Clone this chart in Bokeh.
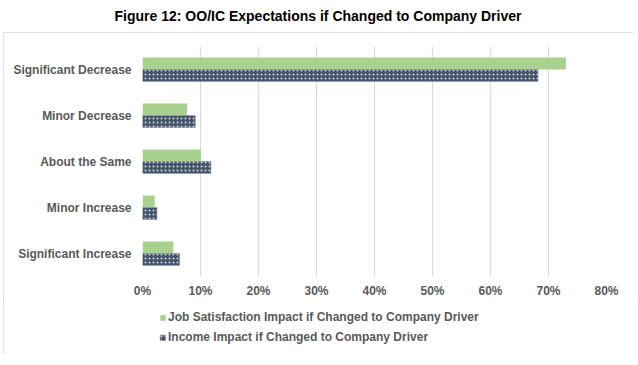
from bokeh.plotting import figure
from bokeh.layouts import column
from bokeh.models import (FactorRange, Range1d, NumeralTickFormatter, FixedTicker,
                          Legend, LegendItem, ColumnDataSource, Div)
from bokeh.transform import dodge
from bokeh.embed import file_html
from bokeh.resources import INLINE

# ---- data ----
categories = ["Significant Decrease", "Minor Decrease", "About the Same",
              "Minor Increase", "Significant Increase"]
job_satisfaction = [0.730, 0.077, 0.101, 0.021, 0.053]
income = [0.682, 0.091, 0.118, 0.025, 0.064]
series_names = ["Job Satisfaction Impact if Changed to Company Driver",
                "Income Impact if Changed to Company Driver"]
x_ticks = [0, 0.1, 0.2, 0.3, 0.4, 0.5, 0.6, 0.7, 0.8]
title_text = "Figure 12: OO/IC Expectations if Changed to Company Driver"

GREEN = "#A9D18E"
NAVY = "#44546A"
GRAY_TXT = "#595959"
GRID = "#D9D9D9"
FONT = "Liberation Sans"

green_style = dict(fill_color=GREEN, line_color=None)
navy_style = dict(fill_color=NAVY, line_color="#8C96A6", line_width=0.6,
                  hatch_pattern="dot", hatch_color="white", hatch_alpha=0.75,
                  hatch_scale=4, hatch_weight=0.5)

src = ColumnDataSource(dict(cat=categories, job=job_satisfaction, inc=income))

title_div = Div(text=title_text, width=636, height=32, margin=(0, 0, 0, 0),
                styles={"font-family": FONT, "font-size": "14px",
                        "font-weight": "bold", "color": "#000000",
                        "text-align": "center", "line-height": "33px",
                        "width": "636px"})

# ---- main chart ----
p = figure(width=630, height=268,
           y_range=FactorRange(*reversed(categories)),
           x_range=Range1d(0, 0.8),
           output_backend="svg", toolbar_location=None,
           min_border_left=139, min_border_right=27,
           min_border_top=14, min_border_bottom=24)
p.margin = (0, 0, 0, 0)
p.outline_line_color = None
p.background_fill_color = "white"

p.hbar(y=dodge("cat", 0.13, range=p.y_range), right="job", left=0,
       height=0.26, source=src, **green_style)
p.hbar(y=dodge("cat", -0.13, range=p.y_range), right="inc", left=0,
       height=0.26, source=src, **navy_style)

xa = p.xaxis[0]
xa.ticker = FixedTicker(ticks=x_ticks)
xa.formatter = NumeralTickFormatter(format="0%")
xa.axis_line_color = None
xa.major_tick_line_color = None
xa.minor_tick_line_color = None
xa.major_tick_out = 0
xa.major_tick_in = 0
xa.minor_tick_out = 0
xa.major_label_text_font = FONT
xa.major_label_text_font_size = "12px"
xa.major_label_text_font_style = "bold"
xa.major_label_text_color = GRAY_TXT
xa.major_label_standoff = 7

ya = p.yaxis[0]
ya.axis_line_color = None
ya.major_tick_line_color = None
ya.minor_tick_line_color = None
ya.major_tick_out = 0
ya.major_tick_in = 0
ya.minor_tick_out = 0
ya.major_label_text_font = FONT
ya.major_label_text_font_size = "12px"
ya.major_label_text_font_style = "bold"
ya.major_label_text_color = GRAY_TXT
ya.major_label_standoff = 11

p.xgrid.grid_line_color = GRID
p.xgrid.grid_line_width = 1.2
p.ygrid.grid_line_color = None

# ---- legend strip (separate frame so the legend is not clipped) ----
pl = figure(width=630, height=54, x_range=Range1d(0, 1), y_range=Range1d(0, 1),
            output_backend="svg", toolbar_location=None,
            min_border_left=0, min_border_right=0,
            min_border_top=0, min_border_bottom=0)
pl.margin = (0, 0, 0, 0)
pl.axis.visible = False
pl.grid.visible = False
pl.outline_line_color = None
# proxy bars for the legend keys, kept outside the visible range of this strip
proxy = ColumnDataSource(dict(y=[-10.0], job=[job_satisfaction[0]], inc=[income[0]]))
lr1 = pl.hbar(y="y", right="job", left=0, height=0.1, source=proxy, **green_style)
lr2 = pl.hbar(y="y", right="inc", left=0, height=0.1, source=proxy, **navy_style)

legend = Legend(items=[LegendItem(label=series_names[0], renderers=[lr1]),
                       LegendItem(label=series_names[1], renderers=[lr2])],
                location=(17, 10), orientation="vertical",
                label_text_font=FONT, label_text_font_size="12px",
                label_text_font_style="bold", label_text_color=GRAY_TXT,
                glyph_width=7, glyph_height=7, label_standoff=2,
                label_height=14, spacing=6, padding=0, margin=0,
                border_line_color=None, background_fill_alpha=0)
pl.add_layout(legend)

inner = column(p, pl, spacing=0, margin=(0, 0, 0, 3),
               styles={"outline": "1px solid #D9D9D9", "outline-offset": "-1px"})
layout = column(title_div, inner, spacing=0)
open("out.html", "w").write(file_html(layout, INLINE))
